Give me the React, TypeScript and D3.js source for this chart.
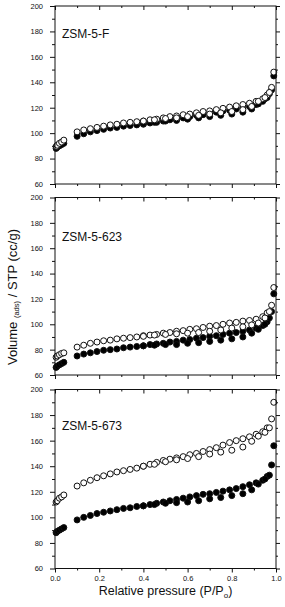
import React, { useEffect, useRef } from 'react';
import * as d3 from 'd3';

// relative pressure of the dense branch and of the sparse (hysteresis) branch
const pressureA = [0.005, 0.01, 0.02, 0.03, 0.04, 0.10, 0.13, 0.16, 0.19, 0.22, 0.25, 0.28, 0.31, 0.34, 0.37, 0.40,
  0.43, 0.46, 0.49, 0.52, 0.55, 0.58, 0.61, 0.64, 0.67, 0.70, 0.73, 0.76, 0.79, 0.82, 0.85, 0.88, 0.91, 0.94, 0.96, 0.98, 0.99];
const pressureB = [0.97, 0.95, 0.92, 0.89, 0.85, 0.80, 0.75, 0.70, 0.65, 0.60, 0.55, 0.50, 0.45, 0.40];

const sampleNames = ['ZSM-5-F', 'ZSM-5-623', 'ZSM-5-673'];

// ZSM-5-F
const openA_F = [89.5, 90.5, 92, 93, 94.5, 101, 102.5, 103.5, 104.5, 105.5, 106.5, 107, 108, 108.5, 109, 109.5,
  110.5, 111, 112, 113, 113.5, 114.5, 115, 116, 117, 117.5, 118.5, 119.5, 120.5, 121.5, 122.5, 123.5, 125, 127, 130, 136, 148];
const openB_F = [132, 128, 125, 121, 118.5, 117, 116, 115, 114, 113, 112, 111.5, 110.5, 109.5];
const filledA_F = [88, 89, 90, 91, 92, 97.5, 99.5, 101, 102, 103, 104, 104.5, 105.5, 106, 106.5, 107,
  108, 108.5, 109.5, 110.5, 111, 112, 113, 114, 114.5, 115.5, 116.5, 117.5, 118, 119, 120, 121, 122.5, 125, 128, 134, 145];
const filledB_F = [131, 127, 123, 119, 116.5, 115, 114, 113, 112, 111, 110, 109.5, 108.5, 107.5];

// ZSM-5-623
const openA_623 = [74, 75, 76, 77, 77.5, 82, 83.5, 85, 86, 87, 87.5, 88.5, 89, 89.5, 90, 91,
  91.5, 92, 93, 93.5, 94.5, 95, 96, 96.5, 97.5, 98.5, 99, 100, 101, 101.5, 102.5, 103, 104, 106, 109, 115, 129];
const openB_623 = [110, 105, 101, 99.5, 98, 97, 95.5, 94.5, 93.5, 93, 92.5, 92, 91.5, 90.5];
const filledA_623 = [66, 67, 68, 69, 70, 75, 76.5, 77.5, 78.5, 79.5, 80, 80.5, 81.5, 82, 82.5, 83,
  84, 84.5, 85, 86, 86.5, 87.5, 88, 89, 89.5, 90.5, 91, 92, 93, 93.5, 94.5, 95.5, 97, 99, 102, 110, 124];
const filledB_623 = [105, 100, 96, 93, 90, 88.5, 87.5, 86.5, 85.5, 85, 84, 84, 83.5, 83];

// ZSM-5-673
const openA_673 = [112, 113, 115, 116, 117.5, 124.5, 127, 129, 131, 132.5, 134, 135.5, 136.5, 137.5, 138.5, 140,
  141.5, 143, 144.5, 145.5, 146.5, 147.5, 149, 150, 151.5, 153, 154.5, 156.5, 158.5, 160, 161.5, 163, 165, 167, 170, 177, 190];
const openB_673 = [170, 166.5, 163.5, 159.5, 155, 152.5, 151, 149.5, 147.5, 146, 145, 143.5, 141.5, 140];
const filledA_673 = [88, 89, 90, 91, 92, 98, 100, 101.5, 103, 104, 105, 106, 107, 107.5, 108.5, 109,
  110, 111, 112, 113, 114, 115, 116, 117, 118, 118.5, 119.5, 120.5, 121.5, 122.5, 124, 125.5, 127, 129, 132, 141, 156];
const filledB_673 = [133, 130, 126, 121.5, 118.5, 117, 115.5, 114.5, 113, 112, 111.5, 111, 110, 109];

const xTicks = [0, 0.2, 0.4, 0.6, 0.8, 1.0];
const yTicks = [60, 80, 100, 120, 140, 160, 180, 200];

const width = 285;
const height = 607;
const left = 55;
const right = 276;
// vertical extent of each panel (bottom, top) and the value at which the name sits
const panelLayout = [
  { bottom: 184, top: 6, labelAt: 175 },
  { bottom: 375, top: 197.5, labelAt: 165.5 },
  { bottom: 568.5, top: 389.5, labelAt: 168 },
];

const FONT = '"Liberation Sans", Arial, sans-serif';

const App: React.FC = () => {
  const svgRef = useRef<SVGSVGElement>(null);

  useEffect(() => {
    if (!svgRef.current) return;
    const svg = d3.select(svgRef.current);
    svg.selectAll('*').remove();
    svg.attr('font-family', FONT);

    const panels = [
      { name: sampleNames[0], openA: openA_F, openB: openB_F, filledA: filledA_F, filledB: filledB_F },
      { name: sampleNames[1], openA: openA_623, openB: openB_623, filledA: filledA_623, filledB: filledB_623 },
      { name: sampleNames[2], openA: openA_673, openB: openB_673, filledA: filledA_673, filledB: filledB_673 },
    ];

    const x = d3.scaleLinear().domain([0, 1]).range([left, right]);

    panels.forEach((p, i) => {
      const lay = panelLayout[i];
      const y = d3.scaleLinear().domain([60, 200]).range([lay.bottom, lay.top]);
      const g = svg.append('g');
      const isLast = i === panels.length - 1;

      // data: filled first, open circles on top
      const pts = (ps: number[], vs: number[]) => ps.map((px, k) => ({ p: px, v: vs[k] }));
      const series = [
        { d: pts(pressureA, p.filledA), fill: '#000' },
        { d: pts(pressureB, p.filledB), fill: '#000' },
        { d: pts(pressureA, p.openA), fill: '#fff' },
        { d: pts(pressureB, p.openB), fill: '#fff' },
      ];
      series.forEach(s => {
        g.append('g')
          .selectAll('circle')
          .data(s.d)
          .join('circle')
          .attr('cx', d => x(d.p))
          .attr('cy', d => y(d.v))
          .attr('r', 3)
          .attr('fill', s.fill)
          .attr('stroke', '#111')
          .attr('stroke-width', 1);
      });

      // left axis, ticks outward
      g.append('g')
        .attr('transform', `translate(${left},0)`)
        .call(d3.axisLeft(y).tickValues(d3.range(70, 200, 20)).tickSize(3).tickFormat(() => ''))
        .call(a => a.select('.domain').remove());
      g.append('g')
        .attr('transform', `translate(${left},0)`)
        .call(d3.axisLeft(y).tickValues(yTicks).tickSize(5).tickPadding(7).tickFormat(d3.format('d')))
        .call(a => a.select('.domain').remove())
        .call(a => a.selectAll('text').attr('font-size', 7.5).attr('fill', '#111').attr('font-family', FONT));

      // right axis, ticks inward
      g.append('g')
        .attr('transform', `translate(${right},0)`)
        .call(d3.axisLeft(y).tickValues(d3.range(70, 200, 20)).tickSize(-2).tickFormat(() => ''))
        .call(a => a.select('.domain').remove());
      g.append('g')
        .attr('transform', `translate(${right},0)`)
        .call(d3.axisLeft(y).tickValues(yTicks).tickSize(-4).tickFormat(() => ''))
        .call(a => a.select('.domain').remove());

      // top axis, ticks inward
      g.append('g')
        .attr('transform', `translate(0,${lay.top})`)
        .call(d3.axisTop(x).tickValues(d3.range(0.1, 1, 0.2)).tickSize(-2).tickFormat(() => ''))
        .call(a => a.select('.domain').remove());
      g.append('g')
        .attr('transform', `translate(0,${lay.top})`)
        .call(d3.axisTop(x).tickValues(xTicks).tickSize(-4).tickFormat(() => ''))
        .call(a => a.select('.domain').remove());

      // bottom axis, ticks outward
      g.append('g')
        .attr('transform', `translate(0,${lay.bottom})`)
        .call(d3.axisBottom(x).tickValues(d3.range(0.1, 1, 0.2)).tickSize(2).tickFormat(() => ''))
        .call(a => a.select('.domain').remove());
      g.append('g')
        .attr('transform', `translate(0,${lay.bottom})`)
        .call(d3.axisBottom(x).tickValues(xTicks).tickSize(4).tickPadding(3)
          .tickFormat(isLast ? d3.format('.1f') : () => ''))
        .call(a => a.select('.domain').remove())
        .call(a => a.selectAll('text').attr('font-size', 7.5).attr('fill', '#111').attr('font-family', FONT));

      g.selectAll('.tick line').attr('stroke', '#111');

      // frame
      g.append('rect')
        .attr('x', left)
        .attr('y', lay.top)
        .attr('width', right - left)
        .attr('height', lay.bottom - lay.top)
        .attr('fill', 'none')
        .attr('stroke', '#111')
        .attr('stroke-width', 1);

      g.append('text')
        .attr('x', left + 7)
        .attr('y', y(lay.labelAt))
        .attr('font-size', 12)
        .attr('fill', '#111')
        .text(p.name);
    });

    // x title
    const xt = svg.append('text')
      .attr('x', (left + right) / 2)
      .attr('y', 595)
      .attr('text-anchor', 'middle')
      .attr('font-size', 12.5)
      .attr('fill', '#111');
    xt.append('tspan').text('Relative pressure (P/P');
    xt.append('tspan').attr('font-size', 8).attr('dy', 3).text('o');
    xt.append('tspan').attr('dy', -3).text(')');

    // y title
    const yt = svg.append('text')
      .attr('transform', `translate(17,${297}) rotate(-90)`)
      .attr('text-anchor', 'middle')
      .attr('font-size', 13)
      .attr('fill', '#111');
    yt.append('tspan').text('Volume ');
    yt.append('tspan').attr('font-size', 7.5).attr('dy', 2).text('(ads)');
    yt.append('tspan').attr('dy', -2).text(' / STP (cc/g)');
  }, []);

  return (
    <svg
      ref={svgRef}
      width={width}
      height={height}
      style={{ position: 'absolute', left: 0, top: 0, background: '#fff' }}
    />
  );
};

export default App;
